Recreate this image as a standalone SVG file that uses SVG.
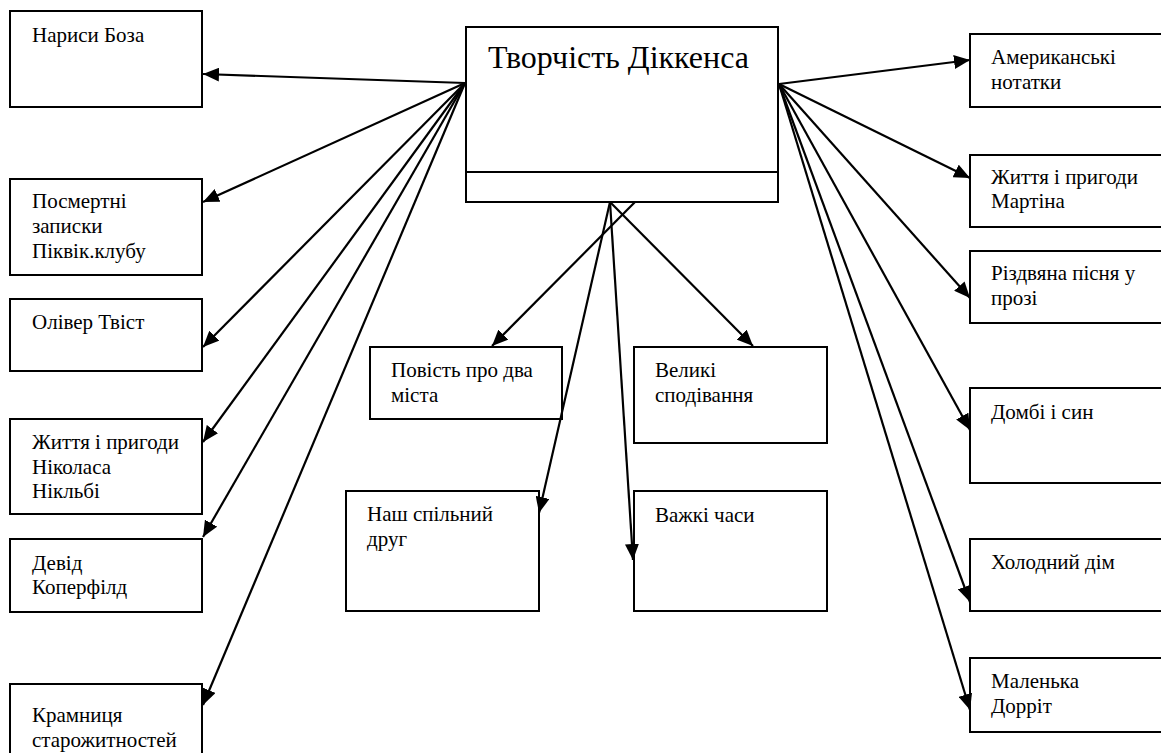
<svg xmlns="http://www.w3.org/2000/svg" width="1161" height="753" viewBox="0 0 1161 753">
<style>
.box{fill:#fff;stroke:#000;stroke-width:2}
text{font-family:'Liberation Serif','DejaVu Serif',serif;fill:#000}
.t{font-size:21px}
.title{font-size:32px}
.c line{stroke:#000;stroke-width:2.2;marker-end:url(#ah)}
</style>
<defs>
<marker id="ah" markerUnits="userSpaceOnUse" markerWidth="16" markerHeight="14" refX="16" refY="7" orient="auto">
<path d="M0,0 L16,7 L0,14 z" fill="#000"/>
</marker>
</defs>
<rect width="1161" height="753" fill="#fff"/>
<g id="center">
<rect class="box" x="466" y="27" width="312" height="175"/>
<line x1="466" y1="172" x2="778" y2="172" stroke="#000" stroke-width="2"/>
<text class="title" x="488" y="68">Творчість Діккенса</text>
</g>
<g id="n1"><rect class="box" x="10" y="11" width="192" height="96"/><text class="t" x="32" y="42">Нариси Боза</text></g>
<g id="n2"><rect class="box" x="10" y="179" width="192" height="96"/><text class="t" x="32" y="208">Посмертні</text><text class="t" x="32" y="233">записки</text><text class="t" x="32" y="258">Піквік.клубу</text></g>
<g id="n3"><rect class="box" x="10" y="299" width="192" height="72"/><text class="t" x="32" y="329">Олівер Твіст</text></g>
<g id="n4"><rect class="box" x="10" y="419" width="192" height="95"/><text class="t" x="32" y="449">Життя і пригоди</text><text class="t" x="32" y="474">Ніколаса</text><text class="t" x="32" y="498">Нікльбі</text></g>
<g id="n5"><rect class="box" x="10" y="539" width="192" height="73"/><text class="t" x="32" y="570">Девід</text><text class="t" x="32" y="594">Коперфілд</text></g>
<g id="n6"><rect class="box" x="10" y="684" width="192" height="80"/><text class="t" x="32" y="722">Крамниця</text><text class="t" x="32" y="747">старожитностей</text></g>
<g id="r1"><rect class="box" x="970" y="34" width="200" height="73"/><text class="t" x="991" y="64">Американські</text><text class="t" x="991" y="89">нотатки</text></g>
<g id="r2"><rect class="box" x="970" y="155" width="200" height="72"/><text class="t" x="991" y="184">Життя і пригоди</text><text class="t" x="991" y="208">Мартіна</text></g>
<g id="r3"><rect class="box" x="970" y="251" width="200" height="72"/><text class="t" x="991" y="280">Різдвяна пісня у</text><text class="t" x="991" y="305">прозі</text></g>
<g id="r4"><rect class="box" x="970" y="388" width="200" height="95"/><text class="t" x="991" y="419">Домбі і син</text></g>
<g id="r5"><rect class="box" x="970" y="539" width="200" height="72"/><text class="t" x="991" y="569">Холодний дім</text></g>
<g id="r6"><rect class="box" x="970" y="658" width="200" height="74"/><text class="t" x="991" y="688">Маленька</text><text class="t" x="991" y="713">Дорріт</text></g>
<g id="m1"><rect class="box" x="370" y="347" width="192" height="72"/><text class="t" x="391" y="377">Повість про два</text><text class="t" x="391" y="402">міста</text></g>
<g id="m2"><rect class="box" x="634" y="347" width="193" height="96"/><text class="t" x="655" y="377">Великі</text><text class="t" x="655" y="402">сподівання</text></g>
<g id="m3"><rect class="box" x="346" y="491" width="193" height="120"/><text class="t" x="367" y="521">Наш спільний</text><text class="t" x="367" y="546">друг</text></g>
<g id="m4"><rect class="box" x="634" y="491" width="193" height="120"/><text class="t" x="655" y="522">Важкі часи</text></g>
<g id="connectors" class="c">
<line x1="465" y1="83" x2="203" y2="74"/>
<line x1="465" y1="83" x2="203" y2="202"/>
<line x1="465" y1="83" x2="203" y2="347"/>
<line x1="465" y1="83" x2="203" y2="442"/>
<line x1="465" y1="83" x2="203" y2="537"/>
<line x1="465" y1="83" x2="203" y2="705"/>
<line x1="779" y1="84" x2="970" y2="60"/>
<line x1="779" y1="84" x2="970" y2="178"/>
<line x1="779" y1="84" x2="970" y2="298"/>
<line x1="779" y1="84" x2="970" y2="430"/>
<line x1="779" y1="84" x2="970" y2="602"/>
<line x1="779" y1="84" x2="970" y2="710"/>
<line x1="635" y1="202" x2="492" y2="346"/>
<line x1="610" y1="202" x2="753" y2="346"/>
<line x1="610" y1="202" x2="539" y2="513"/>
<line x1="610" y1="202" x2="633" y2="560"/>
</g>
</svg>
